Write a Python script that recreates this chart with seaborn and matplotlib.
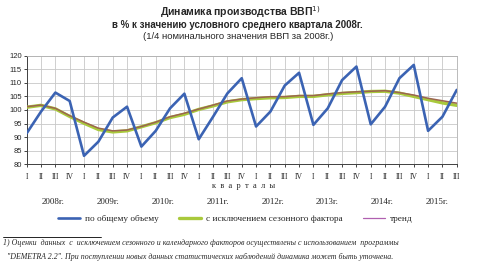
import pandas as pd
import matplotlib.pyplot as plt
import seaborn as sns
from matplotlib.lines import Line2D

# данные по кварталам 2008 I - 2015 III
years = ['2008г.', '2009г.', '2010г.', '2011г.', '2012г.', '2013г.', '2014г.', '2015г.']
quarter_labels = ['I', 'II', 'III', 'IV'] * 7 + ['I', 'II', 'III']

total = [91.4, 99.4, 106.4, 103.3,
         83.1, 88.3, 97.2, 101.2,
         86.5, 92.3, 100.6, 106.0,
         89.2, 97.5, 106.1, 111.7,
         93.9, 99.4, 109.0, 113.7,
         94.5, 100.6, 111.0, 116.0,
         94.7, 101.2, 111.7, 116.6,
         92.3, 97.5, 107.4]

seasonal = [101.0, 101.7, 100.4, 97.6,
            95.1, 92.8, 91.9, 92.3,
            93.8, 95.3, 97.2, 98.4,
            100.2, 101.5, 103.0, 103.8,
            104.2, 104.5, 104.6, 105.0,
            105.0, 105.6, 106.1, 106.4,
            106.8, 106.9, 106.2, 105.0,
            103.8, 102.6, 101.7]

trend = [101.2, 101.8, 100.6, 97.9,
         95.5, 93.3, 92.3, 92.6,
         93.9, 95.5, 97.5, 98.8,
         100.3, 101.8, 103.3, 104.0,
         104.5, 104.9, 104.9, 105.3,
         105.3, 105.9, 106.4, 106.7,
         106.9, 107.1, 106.4, 105.5,
         104.3, 103.4, 102.5]

df = pd.DataFrame({'q': range(len(total)), 'total': total,
                   'seasonal': seasonal, 'trend': trend})

sns.set_style('white')
plt.rcParams['font.family'] = ['Liberation Sans', 'DejaVu Sans']

fig = plt.figure(figsize=(4.8, 2.64), dpi=100)
ax = fig.add_axes([0.0556, 0.378, 0.896, 0.411])

c_blue = '#3b63b3'
c_green = '#a9c93c'
c_trend = '#9c6450'

sns.lineplot(data=df, x='q', y='seasonal', ax=ax, color=c_green, lw=2.4, zorder=3)
sns.lineplot(data=df, x='q', y='trend', ax=ax, color=c_trend, lw=1.1, zorder=4)
sns.lineplot(data=df, x='q', y='total', ax=ax, color=c_blue, lw=1.9, zorder=5)

ax.set_xlim(0, len(total) - 1)
ax.set_ylim(80, 120)
ax.set_yticks(range(80, 121, 5))
ax.set_xticks(range(len(total)))
ax.set_xticklabels(quarter_labels, family='Liberation Serif', fontsize=5.5)
ax.tick_params(axis='y', labelsize=5.5, length=2, width=0.6, pad=1.5, left=True)
ax.tick_params(axis='x', length=2.5, width=0.6, pad=4, bottom=True, direction='out')
ax.set_xlabel('')
ax.set_ylabel('')
ax.grid(True, color='#c8c8c8', lw=0.6)
for s in ['top', 'right']:
    ax.spines[s].set_color('#b0b0b0')
    ax.spines[s].set_linewidth(0.6)
for s in ['left', 'bottom']:
    ax.spines[s].set_color('#404040')
    ax.spines[s].set_linewidth(0.7)

# подписи лет и "кварталы"
ax.text(15.1, -0.205, 'к  в  а  р  т  а  л  ы', transform=ax.get_xaxis_transform(),
        ha='center', va='center', family='Liberation Serif', fontsize=6)
for i, y in enumerate(years):
    ax.text(1.83 + 3.83 * i, -0.345, y, transform=ax.get_xaxis_transform(),
            ha='center', va='center', family='Liberation Serif', fontsize=6.5)

# заголовки
fig.text(0.5, 0.955, 'Динамика производства ВВП$^{1)}$', ha='center', va='center',
         fontsize=7.5, fontweight='bold')
fig.text(0.494, 0.905, 'в % к значению условного среднего квартала 2008г.',
         ha='center', va='center', fontsize=7.0, fontweight='bold')
fig.text(0.496, 0.862, '(1/4 номинального значения ВВП за 2008г.)',
         ha='center', va='center', fontsize=6.8)

# легенда
handles = [Line2D([], [], color=c_blue, lw=1.9),
           Line2D([], [], color=c_green, lw=2.4),
           Line2D([], [], color='#b060b0', lw=0.9)]
fig.legend(handles, ['по общему объему', 'с исключением сезонного фактора', 'тренд'],
           loc='center', bbox_to_anchor=(0.49, 0.170), ncol=3, frameon=False,
           prop={'family': 'Liberation Serif', 'size': 6.7},
           handlelength=2.4, columnspacing=2.2, handletextpad=0.5)

# сноска
fig.add_artist(Line2D([0.006, 0.21], [0.103, 0.103], color='black', lw=0.6))
fig.text(0.006, 0.081, '1) Оценки  данных  с  исключением сезонного и календарного факторов осуществлены с использованием  программы',
         ha='left', va='center', family='Liberation Serif', style='italic', fontsize=5.7)
fig.text(0.014, 0.026, '"DEMETRA 2.2". При поступлении новых данных статистических наблюдений динамика может быть уточнена.',
         ha='left', va='center', family='Liberation Serif', style='italic', fontsize=5.7)

fig.savefig('out.png', dpi=100, facecolor='white')
